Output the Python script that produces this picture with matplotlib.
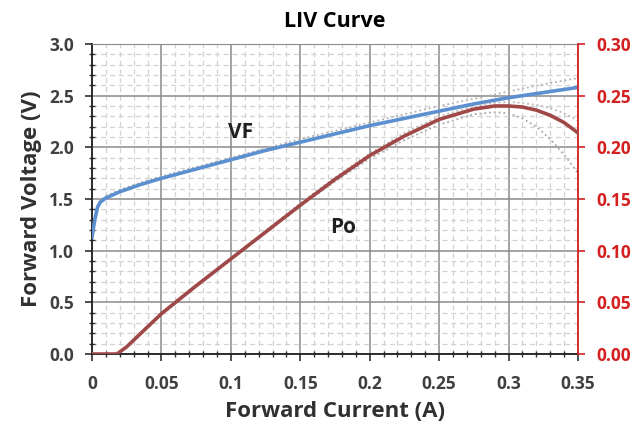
import matplotlib
matplotlib.use("Agg")
import matplotlib.pyplot as plt
from matplotlib.ticker import MultipleLocator, FixedLocator

# Data
current = [0.0, 0.002, 0.004, 0.006, 0.01, 0.02, 0.035, 0.05, 0.075, 0.1, 0.125,
           0.15, 0.175, 0.2, 0.225, 0.25, 0.275, 0.3, 0.325, 0.35]
vf = [1.13, 1.30, 1.42, 1.47, 1.51, 1.57, 1.64, 1.70, 1.79, 1.88, 1.97,
      2.05, 2.13, 2.21, 2.28, 2.35, 2.42, 2.48, 2.53, 2.58]
vf_upper = [1.15, 1.32, 1.44, 1.49, 1.53, 1.59, 1.66, 1.72, 1.81, 1.90, 1.99,
            2.08, 2.16, 2.24, 2.32, 2.40, 2.47, 2.54, 2.61, 2.67]

po_current = [0.0, 0.01, 0.018, 0.025, 0.05, 0.075, 0.1, 0.125, 0.15, 0.175, 0.2,
              0.225, 0.25, 0.275, 0.29, 0.3, 0.31, 0.32, 0.33, 0.34, 0.35]
po = [0.0, 0.0, 0.0, 0.007, 0.039, 0.066, 0.092, 0.118, 0.144, 0.169, 0.192,
      0.211, 0.227, 0.237, 0.240, 0.240, 0.239, 0.236, 0.231, 0.224, 0.214]
po_lower = [0.0, 0.0, 0.0, 0.007, 0.038, 0.065, 0.091, 0.117, 0.143, 0.167, 0.189,
            0.207, 0.222, 0.232, 0.234, 0.233, 0.228, 0.220, 0.208, 0.193, 0.175]
po_upper = [0.0, 0.0, 0.0, 0.007, 0.040, 0.067, 0.093, 0.119, 0.146, 0.171, 0.194,
            0.214, 0.230, 0.240, 0.243, 0.244, 0.243, 0.241, 0.238, 0.233, 0.226]

x_ticks = [0, 0.05, 0.1, 0.15, 0.2, 0.25, 0.3, 0.35]
x_tick_labels = ["0", "0.05", "0.1", "0.15", "0.2", "0.25", "0.3", "0.35"]
y_ticks = [0.0, 0.5, 1.0, 1.5, 2.0, 2.5, 3.0]
y2_ticks = [0.0, 0.05, 0.10, 0.15, 0.20, 0.25, 0.30]

plt.rcParams['font.family'] = ['Open Sans', 'DejaVu Sans']

fig = plt.figure(figsize=(6.41, 4.25), dpi=100)
ax = fig.add_axes([0.1435, 0.167, 0.7582, 0.7295])
ax2 = ax.twinx()

ax.set_xlim(0, 0.35)
ax.set_ylim(0, 3.0)
ax2.set_ylim(0, 0.30)

# grids
ax.xaxis.set_major_locator(FixedLocator(x_ticks))
ax.xaxis.set_minor_locator(MultipleLocator(0.01))
ax.yaxis.set_major_locator(FixedLocator(y_ticks))
ax.yaxis.set_minor_locator(MultipleLocator(0.1))
ax.grid(which='minor', color='#d2d2d2', linestyle=(0, (4, 3)), linewidth=0.9)
ax.grid(which='major', color='#8a8a8a', linestyle='-', linewidth=1.1)
ax.set_axisbelow(True)

# curves
ax.plot(current, vf_upper, color='#b0b0b0', linestyle=':', linewidth=1.3, zorder=2)
ax2.plot(po_current, po_lower, color='#a8a8a8', linestyle=':', linewidth=1.3, zorder=2)
ax2.plot(po_current, po_upper, color='#b8b8b8', linestyle=':', linewidth=1.3, zorder=2)
ax.plot(current, vf, color='#5b8fd0', linewidth=2.6, zorder=3)
ax2.plot(po_current, po, color='#a04848', linewidth=2.6, zorder=3)

# ticks
ax.set_xticks(x_ticks)
ax.set_xticklabels(x_tick_labels)
ax.set_yticks(y_ticks)
ax.set_yticklabels([f"{v:.1f}" for v in y_ticks])
ax2.set_yticks(y2_ticks)
ax2.set_yticklabels([f"{v:.2f}" for v in y2_ticks])

for lab in ax.get_xticklabels() + ax.get_yticklabels():
    lab.set_fontweight('bold')
    lab.set_fontsize(12.5)
    lab.set_color('#404040')
for lab in ax2.get_yticklabels():
    lab.set_fontweight('bold')
    lab.set_fontsize(12.5)
    lab.set_color('#d42020')

ax.tick_params(axis='both', which='major', direction='out', length=5, width=1.2, color='#303030')
ax.tick_params(axis='both', which='minor', direction='inout', length=4, width=1.0, color='#303030')
ax.tick_params(axis='x', which='major', pad=10)
ax.tick_params(axis='y', which='major', pad=8)
ax2.tick_params(axis='y', which='major', direction='out', length=5, width=1.2, color='#d42020', pad=8)

ax.spines['top'].set_color('#8a8a8a')
ax2.spines['top'].set_visible(False)
ax.spines['left'].set_color('#202020')
ax.spines['left'].set_linewidth(1.3)
ax.spines['bottom'].set_color('#202020')
ax.spines['bottom'].set_linewidth(1.3)
ax2.spines['right'].set_color('#d42020')
ax2.spines['right'].set_linewidth(1.3)
ax2.spines['left'].set_visible(False)
ax2.spines['bottom'].set_visible(False)
ax.spines['right'].set_visible(False)

ax.set_xlabel('Forward Current (A)', fontsize=16, fontweight='bold', color='#303030', labelpad=6)
ax.set_ylabel('Forward Voltage (V)', fontsize=16, fontweight='bold', color='#303030', labelpad=5)
ax.set_title('LIV Curve', fontsize=15.5, fontweight='bold', color='black', pad=12)

ax.text(0.107, 2.14, 'VF', fontsize=15, fontweight='bold', color='#202020', ha='center', va='center')
ax.text(0.181, 1.22, 'Po', fontsize=15, fontweight='bold', color='#202020', ha='center', va='center')

fig.savefig('out.png', dpi=100)
